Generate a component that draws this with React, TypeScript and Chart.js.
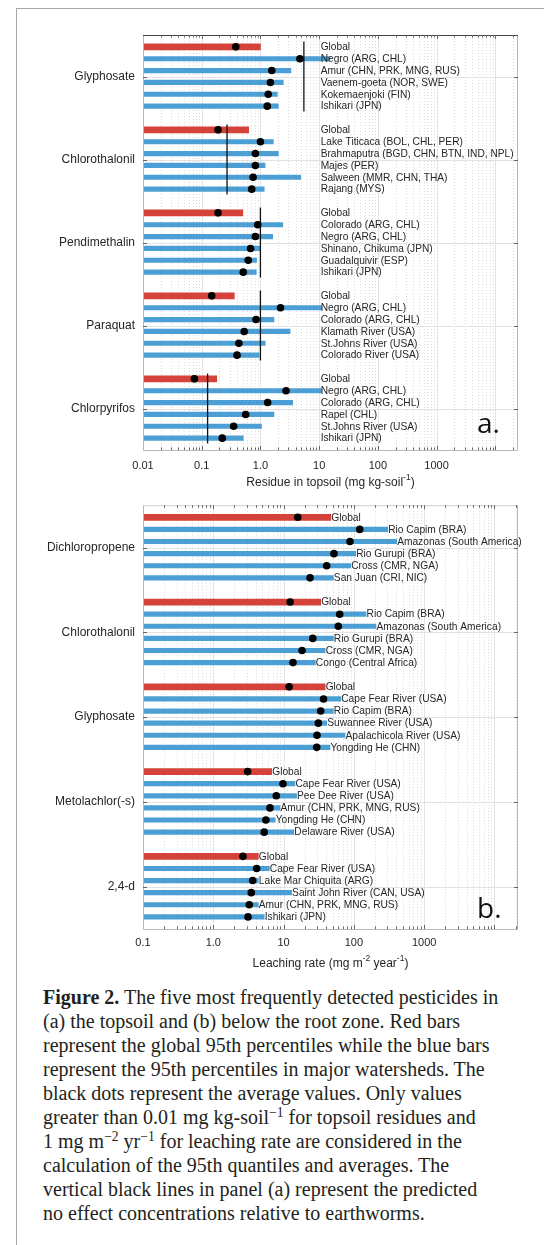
import React, { useEffect, useRef } from "react";
import { Chart, registerables } from "chart.js";

Chart.register(...registerables);

const FONT = "'Liberation Sans', Arial, Helvetica, sans-serif";
const TEXT = "#262626";
const RED = "#d4423a";
const BLUE = "#4c9fd5";

// ---------- Panel (a): residue in topsoil (mg kg-soil^-1) ----------
const pesticidesA = ["Glyphosate", "Chlorothalonil", "Pendimethalin", "Paraquat", "Chlorpyrifos"];
const watershedsA = [
  ["Global", "Negro (ARG, CHL)", "Amur (CHN, PRK, MNG, RUS)", "Vaenem-goeta (NOR, SWE)", "Kokemaenjoki (FIN)", "Ishikari (JPN)"],
  ["Global", "Lake Titicaca (BOL, CHL, PER)", "Brahmaputra (BGD, CHN, BTN, IND, NPL)", "Majes (PER)", "Salween (MMR, CHN, THA)", "Rajang (MYS)"],
  ["Global", "Colorado (ARG, CHL)", "Negro (ARG, CHL)", "Shinano, Chikuma (JPN)", "Guadalquivir (ESP)", "Ishikari (JPN)"],
  ["Global", "Negro (ARG, CHL)", "Colorado (ARG, CHL)", "Klamath River (USA)", "St.Johns River (USA)", "Colorado River (USA)"],
  ["Global", "Negro (ARG, CHL)", "Colorado (ARG, CHL)", "Rapel (CHL)", "St.Johns River (USA)", "Ishikari (JPN)"],
];
const p95A = [
  [1.0, 15.3, 3.3, 2.45, 1.94, 2.02],
  [0.63, 1.66, 2.02, 1.2, 4.86, 1.16],
  [0.5, 2.4, 1.62, 1.0, 0.86, 0.85],
  [0.36, 11, 1.7, 3.2, 1.21, 0.95],
  [0.18, 11, 3.55, 1.7, 1.04, 0.51],
];
const meanA = [
  [0.38, 4.7, 1.56, 1.48, 1.36, 1.31],
  [0.19, 1.0, 0.82, 0.82, 0.75, 0.71],
  [0.19, 0.9, 0.82, 0.68, 0.62, 0.51],
  [0.148, 2.2, 0.84, 0.53, 0.43, 0.4],
  [0.075, 2.73, 1.33, 0.56, 0.35, 0.224],
];
const pnecA = [5.5, 0.27, 1.0, 1.0, 0.126];
const ticksA = [0.01, 0.1, 1, 10, 100, 1000, 10000];
const tickLabelsA = ["0.01", "0.1", "1.0", "10", "100", "1000", ""];

// ---------- Panel (b): leaching rate (mg m^-2 year^-1) ----------
const pesticidesB = ["Dichloropropene", "Chlorothalonil", "Glyphosate", "Metolachlor(-s)", "2,4-d"];
const watershedsB = [
  ["Global", "Rio Capim (BRA)", "Amazonas (South America)", "Rio Gurupi (BRA)", "Cross (CMR, NGA)", "San Juan (CRI, NIC)"],
  ["Global", "Rio Capim (BRA)", "Amazonas (South America)", "Rio Gurupi (BRA)", "Cross (CMR, NGA)", "Congo (Central Africa)"],
  ["Global", "Cape Fear River (USA)", "Rio Capim (BRA)", "Suwannee River (USA)", "Apalachicola River (USA)", "Yongding He (CHN)"],
  ["Global", "Cape Fear River (USA)", "Pee Dee River (USA)", "Amur (CHN, PRK, MNG, RUS)", "Yongding He (CHN)", "Delaware River (USA)"],
  ["Global", "Cape Fear River (USA)", "Lake Mar Chiquita (ARG)", "Saint John River (CAN, USA)", "Amur (CHN, PRK, MNG, RUS)", "Ishikari (JPN)"],
];
const p95B = [
  [47, 303, 406, 106, 90, 51],
  [33.7, 149, 206, 51, 39, 28.3],
  [39, 65, 51, 41, 74.7, 45.7],
  [6.78, 14.5, 15.3, 8.9, 7.6, 14],
  [4.37, 6.27, 4.37, 13, 4.37, 5.3],
];
const meanB = [
  [15.9, 121, 88, 52, 41, 23.8],
  [12.4, 62.8, 60, 26, 18.3, 13.6],
  [12, 37, 33.7, 31.2, 29.9, 29.6],
  [3.08, 9.8, 7.87, 6.4, 5.6, 5.3],
  [2.64, 4.14, 3.63, 3.47, 3.25, 3.12],
];
const ticksB = [0.1, 1, 10, 100, 1000, 10000];
const tickLabelsB = ["0.1", "1.0", "10", "100", "1000", ""];

const ROWS_PER_GROUP = 7;
const rowOf = (g: number, r: number) => 1 + g * ROWS_PER_GROUP + r;

type PanelProps = {
  top: number;
  height: number;
  padTop: number;
  axisH: number;
  tickPad: number;
  groups: string[];
  sites: string[][];
  p95: number[][];
  means: number[][];
  pnec?: number[];
  xMin: number;
  xMax: number;
  ticks: number[];
  tickLabels: string[];
  labelAt?: number;
  title: string[];
  titleY: number;
  letter: string;
  letterY: number;
  topBorder: string;
};

function Panel(p: PanelProps) {
  const ref = useRef<HTMLCanvasElement>(null);
  useEffect(() => {
    const canvas = ref.current!;
    const nG = p.groups.length;
    const yMax = nG * ROWS_PER_GROUP;
    const centers = p.groups.map((_, g) => rowOf(g, 2.5));
    const redData = p.groups.map((_, g) => ({ x: [p.xMin, p.p95[g][0]], y: rowOf(g, 0) }));
    const blueData = p.groups.flatMap((_, g) =>
      p.p95[g].slice(1).map((v, r) => ({ x: [p.xMin, v], y: rowOf(g, r + 1) }))
    );
    const dotData = p.groups.flatMap((_, g) => p.means[g].map((v, r) => ({ x: v, y: rowOf(g, r) })));
    const lineSets = (p.pnec || []).map((v, g) => ({
      type: "line",
      data: [
        { x: v, y: rowOf(g, 0) - 0.45 },
        { x: v, y: rowOf(g, 5) + 0.45 },
      ],
      borderColor: "#111",
      borderWidth: 1.3,
      pointRadius: 0,
      fill: false,
      order: 1,
    }));

    const minorVals: { v: number; major: boolean }[] = [];
    const lo = Math.round(Math.log10(p.xMin));
    const hi = Math.ceil(Math.log10(p.xMax));
    for (let e = lo; e <= hi; e++) {
      for (let k = 1; k <= 9; k++) {
        const v = k * Math.pow(10, e);
        if (v > p.xMax) continue;
        minorVals.push({ v, major: k === 1 });
      }
    }

    const decor = {
      id: "decor",
      beforeDatasetsDraw(chart: any) {
        const { ctx, chartArea: a } = chart;
        const x = chart.scales.x;
        const y = chart.scales.y;
        ctx.save();
        ctx.lineWidth = 1;
        minorVals.forEach(({ v, major }) => {
          if (v <= p.xMin * 1.0001) return;
          const px = Math.round(x.getPixelForValue(v)) + 0.5;
          ctx.beginPath();
          if (major) {
            ctx.setLineDash([]);
            ctx.strokeStyle = "#e4e4e4";
          } else {
            ctx.setLineDash([1, 2]);
            ctx.strokeStyle = "#dcdcdc";
          }
          ctx.moveTo(px, a.top);
          ctx.lineTo(px, a.bottom);
          ctx.stroke();
        });
        ctx.setLineDash([]);
        ctx.strokeStyle = "#e2e2e2";
        centers.forEach((c) => {
          const py = Math.round(y.getPixelForValue(c)) + 0.5;
          ctx.beginPath();
          ctx.moveTo(a.left, py);
          ctx.lineTo(a.right, py);
          ctx.stroke();
        });
        ctx.restore();
      },
      afterDatasetsDraw(chart: any) {
        const { ctx, chartArea: a } = chart;
        const x = chart.scales.x;
        const y = chart.scales.y;
        ctx.save();
        // box
        ctx.lineWidth = 1;
        ctx.strokeStyle = "#b8b8b8";
        ctx.beginPath();
        ctx.moveTo(a.left + 0.5, a.top);
        ctx.lineTo(a.left + 0.5, a.bottom + 0.5);
        ctx.lineTo(a.right - 0.5, a.bottom + 0.5);
        ctx.lineTo(a.right - 0.5, a.top);
        ctx.stroke();
        ctx.strokeStyle = p.topBorder;
        ctx.beginPath();
        ctx.moveTo(a.left, a.top + 0.5);
        ctx.lineTo(a.right, a.top + 0.5);
        ctx.stroke();
        // tick marks
        ctx.strokeStyle = "#666";
        minorVals.forEach(({ v, major }) => {
          if (v <= p.xMin * 1.0001) return;
          const px = Math.round(x.getPixelForValue(v)) + 0.5;
          const len = major ? 4 : 2.5;
          ctx.beginPath();
          ctx.moveTo(px, a.top);
          ctx.lineTo(px, a.top + len);
          ctx.moveTo(px, a.bottom);
          ctx.lineTo(px, a.bottom - len);
          ctx.stroke();
        });
        centers.forEach((c) => {
          const py = Math.round(y.getPixelForValue(c)) + 0.5;
          ctx.beginPath();
          ctx.moveTo(a.left, py);
          ctx.lineTo(a.left + 4, py);
          ctx.moveTo(a.right, py);
          ctx.lineTo(a.right - 4, py);
          ctx.stroke();
        });
        // site labels
        ctx.font = `10.2px ${FONT}`;
        ctx.fillStyle = TEXT;
        ctx.textBaseline = "middle";
        ctx.textAlign = "left";
        p.groups.forEach((_, g) => {
          p.sites[g].forEach((s, r) => {
            const px =
              p.labelAt != null ? x.getPixelForValue(p.labelAt) + 1.5 : x.getPixelForValue(p.p95[g][r]) + 0.5;
            ctx.fillText(s, px, y.getPixelForValue(rowOf(g, r)) + 0.5);
          });
        });
        // axis title with superscripts
        const segs = p.title;
        const mainFont = `12px ${FONT}`;
        const supFont = `8.5px ${FONT}`;
        let total = 0;
        segs.forEach((s, i) => {
          ctx.font = i % 2 === 1 ? supFont : mainFont;
          total += ctx.measureText(s).width;
        });
        let cx = (a.left + a.right) / 2 - total / 2;
        segs.forEach((s, i) => {
          const sup = i % 2 === 1;
          ctx.font = sup ? supFont : mainFont;
          ctx.fillText(s, cx, p.titleY - (sup ? 5 : 0));
          cx += ctx.measureText(s).width;
        });
        // panel letter
        ctx.font = `28px 'Open Sans', ${FONT}`;
        ctx.textBaseline = "alphabetic";
        ctx.fillStyle = "#111";
        ctx.fillText(p.letter, a.right - 41, p.letterY);
        ctx.restore();
      },
    };

    const chart = new Chart(canvas, {
      type: "bar",
      data: {
        datasets: [
          {
            type: "scatter",
            data: dotData,
            backgroundColor: "#000",
            borderColor: "#000",
            pointRadius: 3.8,
            borderWidth: 0,
            order: 0,
          } as any,
          ...(lineSets as any[]),
          {
            type: "bar",
            data: blueData,
            backgroundColor: BLUE,
            barThickness: 4.5,
            grouped: false,
            borderWidth: 0,
            order: 2,
          } as any,
          {
            type: "bar",
            data: redData,
            backgroundColor: RED,
            barThickness: 6,
            grouped: false,
            borderWidth: 0,
            order: 3,
          } as any,
        ],
      },
      options: {
        responsive: false,
        animation: false,
        indexAxis: "y",
        events: [],
        layout: { padding: { left: 0, right: 26, top: p.padTop, bottom: 0 } },
        plugins: { legend: { display: false }, tooltip: { enabled: false }, title: { display: false } },
        scales: {
          x: {
            type: "logarithmic",
            min: p.xMin,
            max: p.xMax,
            offset: false,
            afterBuildTicks: (s: any) => {
              s.ticks = p.ticks.map((v) => ({ value: v }));
            },
            afterFit: (s: any) => {
              s.height = p.axisH;
            },
            grid: { display: false, drawTicks: false },
            border: { display: false },
            ticks: {
              autoSkip: false,
              maxRotation: 0,
              minRotation: 0,
              padding: p.tickPad,
              color: TEXT,
              font: { size: 11, family: FONT },
              callback: (_v: any, i: number) => p.tickLabels[i],
            },
          },
          y: {
            type: "linear",
            min: 0,
            max: yMax,
            reverse: true,
            offset: false,
            afterBuildTicks: (s: any) => {
              s.ticks = centers.map((v) => ({ value: v }));
            },
            afterFit: (s: any) => {
              s.width = 143;
            },
            grid: { display: false, drawTicks: false },
            border: { display: false },
            ticks: {
              autoSkip: false,
              padding: 8,
              color: TEXT,
              font: { size: 12, family: FONT },
              callback: (_v: any, i: number) => p.groups[i],
            },
          },
        },
      } as any,
      plugins: [decor],
    });
    return () => chart.destroy();
  }, []);
  return (
    <canvas
      ref={ref}
      width={544}
      height={p.height}
      style={{ position: "absolute", left: 0, top: p.top, width: 544, height: p.height }}
    />
  );
}

const supStyle: React.CSSProperties = { fontSize: "0.68em", verticalAlign: "0.55em", lineHeight: 0 };

export default function App() {
  return (
    <div
      style={{
        position: "absolute",
        left: 0,
        top: 0,
        width: 544,
        height: 1245,
        overflow: "hidden",
        background: "#fff",
      }}
    >
      <div style={{ position: "absolute", left: 16, top: 8, width: 1, height: 1237, background: "#a8a8a8" }} />
      <div style={{ position: "absolute", left: 16, top: 8, width: 528, height: 1, background: "#a8a8a8" }} />
      <Panel
        top={0}
        height={490}
        padTop={35}
        axisH={40}
        tickPad={9}
        groups={pesticidesA}
        sites={watershedsA}
        p95={p95A}
        means={meanA}
        pnec={pnecA}
        xMin={0.01}
        xMax={24400}
        ticks={ticksA}
        tickLabels={tickLabelsA}
        labelAt={10}
        title={["Residue in topsoil (mg kg-soil", "-1", ")"]}
        titleY={483}
        letter="a."
        letterY={433}
        topBorder="#444"
      />
      <Panel
        top={490}
        height={490}
        padTop={8}
        axisH={51}
        tickPad={7}
        groups={pesticidesB}
        sites={watershedsB}
        p95={p95B}
        means={meanB}
        xMin={0.1}
        xMax={21600}
        ticks={ticksB}
        tickLabels={tickLabelsB}
        title={["Leaching rate (mg m", "-2", " year", "-1", ")"]}
        titleY={474}
        letter="b."
        letterY={428}
        topBorder="#d0d0d0"
      />
      <div
        style={{
          position: "absolute",
          left: 43,
          top: 985,
          fontFamily: "'Liberation Serif', 'Times New Roman', serif",
          fontSize: 20,
          lineHeight: "24px",
          color: "#231f20",
          whiteSpace: "nowrap",
        }}
      >
        <b>Figure 2.</b> The five most frequently detected pesticides in
        <br />
        (a) the topsoil and (b) below the root zone. Red bars
        <br />
        represent the global 95th percentiles while the blue bars
        <br />
        represent the 95th percentiles in major watersheds. The
        <br />
        black dots represent the average values. Only values
        <br />
        greater than 0.01 mg kg-soil<sup style={supStyle}>−1</sup> for topsoil residues and
        <br />1 mg m<sup style={supStyle}>−2</sup> yr<sup style={supStyle}>−1</sup> for leaching rate are considered in the
        <br />
        calculation of the 95th quantiles and averages. The
        <br />
        vertical black lines in panel (a) represent the predicted
        <br />
        no effect concentrations relative to earthworms.
      </div>
    </div>
  );
}
